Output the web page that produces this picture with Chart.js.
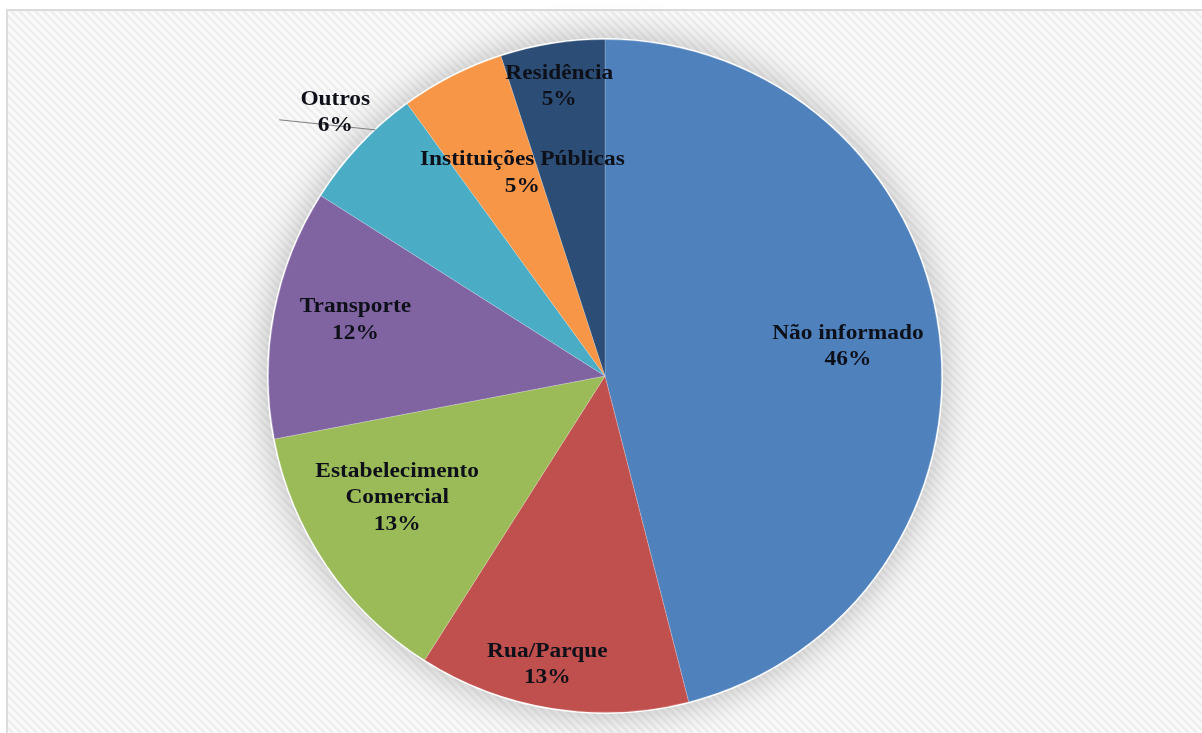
<!DOCTYPE html>
<html>
<head>
<meta charset="utf-8">
<style>
  html, body { margin: 0; padding: 0; background: #ffffff; }
  #wrap { width: 1202px; height: 733px; }
</style>
<script src="https://cdn.jsdelivr.net/npm/chart.js@4/dist/chart.umd.min.js"></script>
</head>
<body>
<div id="wrap"><canvas id="pie" width="1202" height="733"></canvas></div>
<script>
// Local de ocorrência (%)
const categories = [
  'Não informado',
  'Rua/Parque',
  'Estabelecimento Comercial',
  'Transporte',
  'Outros',
  'Instituições Públicas',
  'Residência'
];
const percentages = [46, 13, 13, 12, 6, 5, 5];
const sliceColors = ['#4f81bd', '#c0504d', '#9bbb59', '#8064a2', '#4bacc6', '#f79646', '#2c4d75'];

// label text lines per slice
const labelLines = [
  ['Não informado'],
  ['Rua/Parque'],
  ['Estabelecimento', 'Comercial'],
  ['Transporte'],
  ['Outros'],
  ['Instituições Públicas'],
  ['Residência']
];
// label placement: fraction of the radius and angular nudge (degrees)
const labelRadius = [0.727, 0.875, 0.716, 0.76, 1.12, 0.65, 0.87];
const labelNudge  = [0.4, 2.3, 3.8, 1.8, 1.1, 4.8, 0.0];

const FONT_PX = 20;
const STRETCH = 1.17;
const LINE_H = 26.5;
const TEXT_COLOR = '#0e1019';

function hatchPattern(ctx) {
  const c = document.createElement('canvas');
  c.width = 8; c.height = 8;
  const g = c.getContext('2d');
  g.fillStyle = '#fafafa';
  g.fillRect(0, 0, 8, 8);
  g.strokeStyle = '#eeeeee';
  g.lineWidth = 2.5;
  g.beginPath();
  g.moveTo(-2, -2); g.lineTo(10, 10);
  g.moveTo(-10, -2); g.lineTo(2, 10);
  g.moveTo(6, -2); g.lineTo(18, 10);
  g.stroke();
  return ctx.createPattern(c, 'repeat');
}

const backdrop = {
  id: 'backdrop',
  beforeDraw(chart) {
    const ctx = chart.ctx;
    ctx.save();
    ctx.fillStyle = '#ffffff';
    ctx.fillRect(0, 0, chart.width, chart.height);
    ctx.fillStyle = hatchPattern(ctx);
    ctx.fillRect(7, 10, chart.width - 7, chart.height - 10);
    ctx.strokeStyle = '#dcdcdc';
    ctx.lineWidth = 2;
    ctx.beginPath();
    ctx.moveTo(7, chart.height);
    ctx.lineTo(7, 10);
    ctx.lineTo(chart.width, 10);
    ctx.stroke();
    ctx.restore();
  },
  beforeDatasetsDraw(chart) {
    // soft halo beneath the pie
    const arc = chart.getDatasetMeta(0).data[0];
    if (!arc) return;
    const { x, y, outerRadius } = arc.getProps(['x', 'y', 'outerRadius'], true);
    const ctx = chart.ctx;
    ctx.save();
    ctx.shadowColor = 'rgba(0,0,0,0.26)';
    ctx.shadowBlur = 36;
    ctx.fillStyle = '#ffffff';
    ctx.beginPath();
    ctx.arc(x, y, outerRadius + 1.5, 0, Math.PI * 2);
    ctx.fill();
    ctx.restore();
  }
};

function drawStretched(ctx, text, x, y) {
  ctx.save();
  ctx.translate(x, y);
  ctx.scale(STRETCH, 1);
  ctx.fillText(text, 0, 0);
  ctx.restore();
}

const sliceLabels = {
  id: 'sliceLabels',
  afterDatasetsDraw(chart) {
    const ctx = chart.ctx;
    const meta = chart.getDatasetMeta(0);
    ctx.save();
    ctx.font = 'bold ' + FONT_PX + 'px "Liberation Serif", "Times New Roman", serif';
    ctx.fillStyle = TEXT_COLOR;
    ctx.textAlign = 'center';
    ctx.textBaseline = 'middle';
    meta.data.forEach((arc, i) => {
      const p = arc.getProps(['x', 'y', 'startAngle', 'endAngle', 'outerRadius'], true);
      const mid = (p.startAngle + p.endAngle) / 2 + labelNudge[i] * Math.PI / 180;
      const r = p.outerRadius * labelRadius[i];
      const cx = p.x + Math.cos(mid) * r;
      const cy = p.y + Math.sin(mid) * r;
      const lines = labelLines[i].concat([percentages[i] + '%']);
      const top = cy - (lines.length - 1) * LINE_H / 2;

      if (labelRadius[i] > 1) {
        // leader line from the outside label to the slice edge
        const edgeAng = (p.startAngle + p.endAngle) / 2 + 3.8 * Math.PI / 180;
        const ex = p.x + Math.cos(edgeAng) * p.outerRadius;
        const ey = p.y + Math.sin(edgeAng) * p.outerRadius;
        ctx.save();
        ctx.strokeStyle = '#7f7f7f';
        ctx.lineWidth = 1;
        ctx.beginPath();
        ctx.moveTo(cx - 56, cy + 7);
        ctx.lineTo(ex, ey);
        ctx.stroke();
        ctx.restore();
      }
      lines.forEach((t, k) => drawStretched(ctx, t, cx, top + k * LINE_H));
    });
    ctx.restore();
  }
};

new Chart(document.getElementById('pie'), {
  type: 'pie',
  data: {
    labels: categories,
    datasets: [{
      data: percentages,
      backgroundColor: sliceColors,
      borderColor: 'rgba(255,255,255,0.2)',
      borderWidth: 1
    }]
  },
  options: {
    responsive: false,
    animation: false,
    devicePixelRatio: 1,
    layout: { padding: { top: 39, bottom: 20, left: 8, right: 0 } },
    plugins: {
      legend: { display: false },
      tooltip: { enabled: false }
    }
  },
  plugins: [backdrop, sliceLabels]
});
</script>
</body>
</html>
